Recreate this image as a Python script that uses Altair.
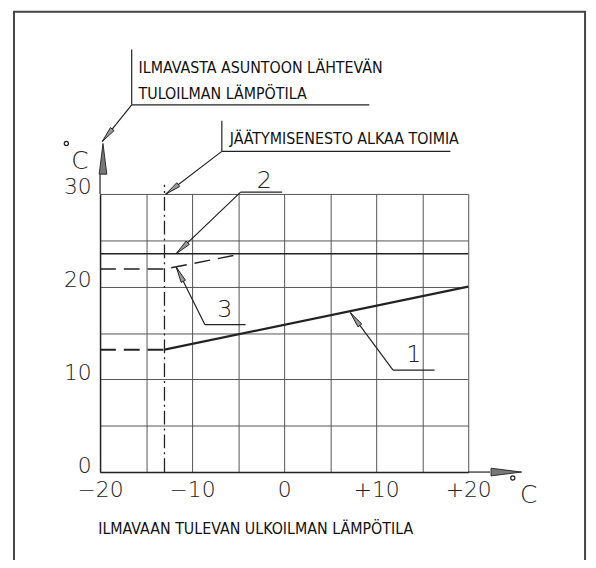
import altair as alt
import pandas as pd

# ---------------- data ----------------
x_ticks = [-20, -15, -10, -5, 0, 5, 10, 15, 20]
y_ticks = [0, 5, 10, 15, 20, 25, 30]

# curve 1 (dashed below frost protection start, solid above)
c1_dash_x = [-20, -13]
c1_dash_y = [13.2, 13.2]
c1_x = [-13, 20]
c1_y = [13.2, 20.0]
# curve 2
c2_x = [-20, 20]
c2_y = [23.55, 23.55]
# curve 3 (dashed)
c3_x = [-20, -13, -5]
c3_y = [21.9, 21.9, 23.45]
# frost protection start (dash-dot vertical)
frost_x = [-13, -13]
frost_y = [0, 31]

# annotation texts
cond_texts = ["ILMAVASTA ASUNTOON LÄHTEVÄN", "TULOILMAN LÄMPÖTILA",
              "JÄÄTYMISENESTO ALKAA TOIMIA", "ILMAVAAN TULEVAN ULKOILMAN LÄMPÖTILA"]
cond_x = [-15.81, -15.81, -5.91, -20.2]
cond_y = [43.02, 40.28, 35.34, -6.73]

num_texts = ["2", "3", "1"]
num_x = [-2.15, -6.45, 14.09]
num_y = [30.64, 16.76, 11.85]

unit_texts = ["C", "C"]
unit_x = [-22.2, 26.56]
unit_y = [32.67, -3.31]
deg_x = [-23.66, 24.84]
deg_y = [35.44, -0.64]

# leader segments
seg_x = [-16.56, -16.56, -16.56, -6.77, -6.77, -6.77, -4.73, -4.73, -8.6, -8.6, 11.83, 11.83, -20, 20]
seg_y = [45.59, 39.61, 39.61, 37.9, 34.59, 34.59, 30.2, 30.2, 15.9, 15.9, 11.0, 11.0, 30, 0]
seg_x2 = [-16.56, 9.25, -19.75, -6.77, 18.06, -12.87, -0.22, -11.72, -4.19, -11.72, 16.34, 7.2, -20, 22.37]
seg_y2 = [39.61, 39.61, 35.66, 34.59, 34.59, 29.97, 30.2, 23.56, 15.9, 22.1, 11.0, 17.19, 32.13, 0]

# leader arrowheads
arr_x = [-19.75, -12.87, -11.72, -11.72, 7.2]
arr_y = [35.66, 29.97, 23.56, 22.1, 17.19]
arr_angle = [218.8, 232.6, 226.5, 333.4, 323.4]

# axis arrows
ax_arr_x = [-19.68, 25.81]
ax_arr_y = [35.44, 0]
ax_arr_angle = [0, 90]

# frame
frame_x = [-29.35]
frame_x2 = [32.69]
frame_y = [49.64]
frame_y2 = [-11.0]

# ---------------- chart ----------------
XS = alt.Scale(domain=[-20, 20], nice=False, zero=False)
YS = alt.Scale(domain=[0, 30], nice=False, zero=False)

x_axis = alt.Axis(values=x_ticks, grid=True, ticks=False, title="",
                  labelExpr="datum.value % 10 == 0 ? (datum.value > 0 ? '+' + datum.value : datum.label) : ''",
                  labelFlush=False, labelOverlap=False, labelPadding=8, labelBaseline="top")
y_axis = alt.Axis(values=y_ticks, grid=True, ticks=False, title="",
                  labelExpr="datum.value % 10 == 0 ? datum.label : ''",
                  labelFlush=False, labelOverlap=False, labelPadding=9, labelBaseline="alphabetic")


def X(f="x"):
    return alt.X(f, type="quantitative", scale=XS, axis=x_axis)


def Y(f="y"):
    return alt.Y(f, type="quantitative", scale=YS, axis=y_axis)


def df(**kw):
    return pd.DataFrame(kw)


DARK = "#222222"
COND_FONT = "Liberation Sans Narrow, DejaVu Sans Condensed, sans-serif"
CAD_FONT = "DejaVu Sans"

frame = alt.Chart(df(x=frame_x, x2=frame_x2, y=frame_y, y2=frame_y2)).mark_rect(
    fillOpacity=0, stroke="#444444", strokeWidth=2
).encode(x=X(), x2="x2:Q", y=Y(), y2="y2:Q")

frost = alt.Chart(df(x=frost_x, y=frost_y)).mark_line(
    color=DARK, strokeWidth=1.3, strokeDash=[14, 4, 2, 4]
).encode(x=X(), y=Y())

c1d = alt.Chart(df(x=c1_dash_x, y=c1_dash_y)).mark_line(
    color=DARK, strokeWidth=2, strokeDash=[16, 8]
).encode(x=X(), y=Y())
c1 = alt.Chart(df(x=c1_x, y=c1_y)).mark_line(color=DARK, strokeWidth=2.2).encode(x=X(), y=Y())
c2 = alt.Chart(df(x=c2_x, y=c2_y)).mark_line(color=DARK, strokeWidth=1.6).encode(x=X(), y=Y())
c3 = alt.Chart(df(x=c3_x, y=c3_y)).mark_line(
    color=DARK, strokeWidth=1.5, strokeDash=[16, 8]
).encode(x=X(), y=Y())

segs = alt.Chart(df(x=seg_x, y=seg_y, x2=seg_x2, y2=seg_y2)).mark_rule(
    color=DARK, strokeWidth=1.2
).encode(x=X(), y=Y(), x2="x2:Q", y2="y2:Q")

arrows = alt.Chart(df(x=arr_x, y=arr_y, a=arr_angle)).mark_point(
    shape="M0,0L0.3,2L-0.3,2Z", size=256, filled=True, fill="#999999",
    stroke=DARK, strokeWidth=0.9, opacity=1
).encode(x=X(), y=Y(), angle=alt.Angle("a:Q", scale=None))

ax_arrows = alt.Chart(df(x=ax_arr_x, y=ax_arr_y, a=ax_arr_angle)).mark_point(
    shape="M0,0L0.25,2L-0.25,2Z", size=961, filled=True, fill="#777777",
    stroke=DARK, strokeWidth=0.9, opacity=1
).encode(x=X(), y=Y(), angle=alt.Angle("a:Q", scale=None))

cond = alt.Chart(df(x=cond_x, y=cond_y, t=cond_texts)).mark_text(
    font=COND_FONT, fontSize=16, align="left", baseline="alphabetic", color="#111111"
).encode(x=X(), y=Y(), text="t:N")

nums = alt.Chart(df(x=num_x, y=num_y, t=num_texts)).mark_text(
    font=CAD_FONT, fontWeight=200, fontSize=24, align="center", baseline="alphabetic", color=DARK
).encode(x=X(), y=Y(), text="t:N")

units = alt.Chart(df(x=unit_x, y=unit_y, t=unit_texts)).mark_text(
    font=CAD_FONT, fontWeight=200, fontSize=25, align="center", baseline="alphabetic", color=DARK
).encode(x=X(), y=Y(), text="t:N")

degs = alt.Chart(df(x=deg_x, y=deg_y)).mark_point(
    shape="circle", size=18, filled=False, stroke=DARK, strokeWidth=1.2, opacity=1
).encode(x=X(), y=Y())

chart = alt.layer(
    frame, frost, c1d, c1, c2, c3, segs, arrows, ax_arrows, cond, nums, units, degs
).properties(
    width=372, height=281, autosize="none",
    padding={"left": 93, "top": 185, "right": 121, "bottom": 86},
    background="white"
).configure_view(
    stroke="transparent"
).configure_axis(
    gridColor="#555555", gridWidth=1, gridOpacity=1,
    domainColor=DARK, domainWidth=1.5,
    labelFont=CAD_FONT, labelFontWeight=200, labelFontSize=22, labelColor=DARK
)

chart.save("out.html", embed_options={"renderer": "svg", "actions": False})
